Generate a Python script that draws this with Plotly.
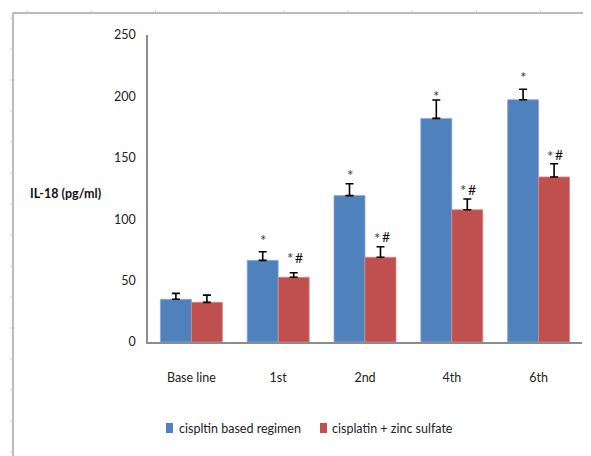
import plotly.graph_objects as go

categories = ["Base line", "1st", "2nd", "4th", "6th"]
cisplatin = [34.8, 66.5, 119.2, 182.1, 197.3]
cisplatin_err = [4.8, 7.0, 9.7, 15.0, 8.5]
zinc = [32.3, 52.7, 69.0, 107.7, 134.4]
zinc_err = [5.9, 3.7, 8.6, 8.7, 10.8]
# significance marks (label y in data units; None = no mark)
star_blue_y = [None, 85.5, 138.7, 202.5, 218.2]
mark_red_y = [None, 69.2, 85.8, 124.3, 152.3]
series_names = ["cispltin based regimen", "cisplatin + zinc sulfate"]

BLUE = "#4f81bd"
RED = "#c0504d"
FONT = "Lato"
FS = 12.5

# page body is offset by 8px; figure coordinates = page coords - 8
OFF = 8
W, H = 591 - OFF, 456 - OFF
L, R, T, B = 148 - OFF, 9, 35 - OFF, 114
pw, ph = W - L - R, H - T - B


def px(xp):
    return (xp - OFF - L) / pw


def py(yp):
    return (H - B - (yp - OFF)) / ph


fig = go.Figure()
fig.add_trace(go.Bar(
    x=categories, y=cisplatin, name=series_names[0],
    marker=dict(color=BLUE, line=dict(color="#8eaad4", width=0.8)),
    error_y=dict(type="data", array=cisplatin_err, symmetric=False,
                 arrayminus=[0] * len(cisplatin), color="black", thickness=1.6, width=4),
))
fig.add_trace(go.Bar(
    x=categories, y=zinc, name=series_names[1],
    marker=dict(color=RED, line=dict(color="#d68a88", width=0.8)),
    error_y=dict(type="data", array=zinc_err, symmetric=False,
                 arrayminus=[0] * len(zinc), color="black", thickness=1.6, width=4),
))

annotations = []
for c, yb, yr in zip(categories, star_blue_y, mark_red_y):
    if yb is not None:
        annotations.append(dict(x=c, y=yb, xref="x", yref="y", text="*", showarrow=False,
                                xshift=-15.5, yshift=-3, font=dict(family=FONT, size=15, color="#3a3a3a")))
    if yr is not None:
        annotations.append(dict(x=c, y=yr, xref="x", yref="y", text="*", showarrow=False,
                                xshift=11.5, yshift=-1, font=dict(family=FONT, size=15, color="#3a3a3a")))
        annotations.append(dict(x=c, y=yr, xref="x", yref="y", text="#", showarrow=False,
                                xshift=20.5, yshift=0, font=dict(family=FONT, size=14, color="#111")))

annotations.append(dict(x=px(28), y=py(193), xref="paper", yref="paper", xanchor="left",
                        yanchor="middle", text="<b>IL-18 (pg/ml)</b>", showarrow=False,
                        font=dict(family=FONT, size=FS, color="#111")))

# manual legend (small squares + text)
shapes = []
legend_items = [(166, 177, BLUE, series_names[0]), (320, 330, RED, series_names[1])]
for sx, tx, col, name in legend_items:
    shapes.append(dict(type="rect", xref="paper", yref="paper", x0=px(sx), x1=px(sx + 7),
                       y0=py(433), y1=py(423), fillcolor=col, line=dict(width=0)))
    annotations.append(dict(x=px(tx), y=py(428), xref="paper", yref="paper", xanchor="left",
                            yanchor="middle", text=name, showarrow=False,
                            font=dict(family=FONT, size=FS, color="#222")))

# decorative page frame with ruler ticks
shapes += [
    dict(type="line", xref="paper", yref="paper", x0=px(13), x1=px(13), y0=py(13), y1=py(470),
         line=dict(color="#a6a6a6", width=1.5)),
    dict(type="line", xref="paper", yref="paper", x0=px(13), x1=px(600), y0=py(13), y1=py(13),
         line=dict(color="#a6a6a6", width=1.5)),
]
for k in range(9):
    xx = 27 + 64.2 * k
    shapes.append(dict(type="line", xref="paper", yref="paper", x0=px(xx), x1=px(xx), y0=py(10), y1=py(13),
                       line=dict(color="#c0c8d4", width=1)))
for k in range(15):
    yy = 18 + 31 * k
    shapes.append(dict(type="line", xref="paper", yref="paper", x0=px(10), x1=px(13), y0=py(yy), y1=py(yy),
                       line=dict(color="#c0c8d4", width=1)))

fig.update_layout(
    width=W, height=H,
    margin=dict(l=L, r=R, t=T, b=B),
    paper_bgcolor="white", plot_bgcolor="white",
    barmode="group", bargap=0.286, bargroupgap=0,
    font=dict(family=FONT, size=FS, color="#222"),
    showlegend=False,
    annotations=annotations,
    shapes=shapes,
)
fig.update_xaxes(showline=True, linecolor="#8c8c8c", linewidth=1.5, ticks="", showgrid=False,
                 ticklabelstandoff=23, tickfont=dict(family=FONT, size=FS, color="#222"))
fig.update_yaxes(range=[0, 250], dtick=50, showline=True, linecolor="#8c8c8c", linewidth=1.5,
                 ticks="", showgrid=False, zeroline=False, ticklabelstandoff=8,
                 tickfont=dict(family=FONT, size=FS, color="#222"))

fig.write_html("out.html")
